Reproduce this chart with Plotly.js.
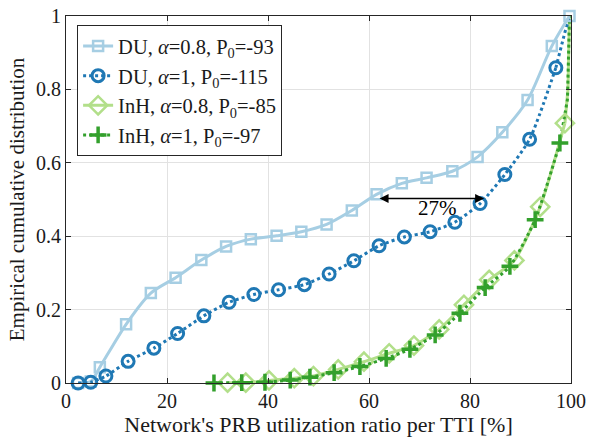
<!DOCTYPE html>
<html>
<head>
<meta charset="utf-8">
<script src="https://cdn.plot.ly/plotly-3.0.1.min.js"></script>
<style>
  html, body { margin: 0; padding: 0; background: #ffffff; }
  #chart { width: 589px; height: 438px; }
</style>
</head>
<body>
<div id="chart"></div>
<script>
// PRB utilization ratio (%) and empirical CDF at each marker position
const duA08X = [2.4, 4.9, 6.7, 11.9, 16.8, 21.7, 26.8, 31.7, 36.6, 41.7, 46.6, 51.6, 56.6, 61.5, 66.5, 71.4, 76.5, 81.5, 86.4, 91.4, 96.2, 99.7];
const duA08Y = [0.0, 0.004, 0.043, 0.160, 0.245, 0.287, 0.335, 0.372, 0.392, 0.401, 0.412, 0.432, 0.470, 0.514, 0.544, 0.559, 0.577, 0.616, 0.683, 0.771, 0.918, 1.0];

const duA1X = [2.4, 4.9, 7.9, 12.3, 17.4, 22.1, 27.3, 32.3, 37.2, 42.1, 47.2, 52.1, 57.0, 62.0, 67.0, 72.1, 77.0, 82.0, 86.9, 91.8, 97.0];
const duA1Y = [0.0, 0.002, 0.019, 0.059, 0.095, 0.135, 0.183, 0.220, 0.241, 0.254, 0.268, 0.297, 0.333, 0.374, 0.398, 0.412, 0.438, 0.489, 0.568, 0.664, 0.859];
const duA1TailX = [97.0, 98.8, 99.8];
const duA1TailY = [0.859, 0.956, 1.0];

const inhA08X = [32.0, 35.6, 40.2, 45.2, 49.0, 53.9, 59.0, 64.0, 68.9, 73.9, 78.8, 83.8, 88.8, 93.9, 98.8];
const inhA08Y = [0.001, 0.001, 0.007, 0.013, 0.019, 0.037, 0.058, 0.081, 0.102, 0.146, 0.213, 0.281, 0.334, 0.480, 0.708];
const inhA08TailX = [98.8, 99.4, 99.7];
const inhA08TailY = [0.708, 0.80, 1.0];

const inhA1X = [29.3, 34.8, 39.4, 44.4, 48.3, 53.1, 58.2, 63.4, 68.1, 73.1, 78.0, 83.0, 87.9, 92.9, 97.8];
const inhA1Y = [0.0, 0.001, 0.002, 0.008, 0.016, 0.028, 0.045, 0.067, 0.092, 0.131, 0.190, 0.260, 0.318, 0.445, 0.654];
const inhA1TailX = [97.8, 99.3, 99.7];
const inhA1TailY = [0.654, 0.773, 1.0];

const seriesNames = [
  'DU, <i>α</i>=0.8, P<sub>0</sub>=-93',
  'DU, <i>α</i>=1, P<sub>0</sub>=-115',
  'InH, <i>α</i>=0.8, P<sub>0</sub>=-85',
  'InH, <i>α</i>=1, P<sub>0</sub>=-97'
];

// Gap between the two DU curves at the median
const gapFrom = 61.8, gapTo = 82.8, gapLevel = 0.503;
const gapText = '27%';

const xTicks = [0, 20, 40, 60, 80, 100];
const yTicks = [0, 0.2, 0.4, 0.6, 0.8, 1];

const cLightBlue = '#a6cee3', cBlue = '#1f78b4', cLightGreen = '#b2df8a', cGreen = '#33a02c';
const serif = 'Liberation Serif, Times New Roman, serif';
const ink = '#1a1a1a';

const tail = (x, y, color, dash) => ({
  x, y, mode: 'lines', showlegend: false, hoverinfo: 'skip',
  line: {color, width: 3, dash}
});

const traces = [
  tail(inhA08TailX, inhA08TailY, cLightGreen, 'solid'),
  tail(inhA1TailX, inhA1TailY, cGreen, 'dot'),
  tail(duA1TailX, duA1TailY, cBlue, 'dot'),
  {
    x: duA08X, y: duA08Y, name: seriesNames[0], mode: 'lines+markers', cliponaxis: false,
    line: {color: cLightBlue, width: 3, shape: 'spline', smoothing: 0.8},
    marker: {symbol: 'square-open', size: 10, color: cLightBlue, line: {color: cLightBlue, width: 2.5}}
  },
  {
    x: duA1X, y: duA1Y, name: seriesNames[1], mode: 'lines+markers', cliponaxis: false,
    line: {color: cBlue, width: 3, dash: 'dot', shape: 'spline', smoothing: 0.6},
    marker: {symbol: 'circle-open', size: 12, color: cBlue, line: {color: cBlue, width: 3}}
  },
  {
    x: inhA08X, y: inhA08Y, name: seriesNames[2], mode: 'lines+markers', cliponaxis: false,
    line: {color: cLightGreen, width: 3, shape: 'spline', smoothing: 0.6},
    marker: {symbol: 'diamond-open', size: 14, color: cLightGreen, line: {color: cLightGreen, width: 2.5}}
  },
  {
    x: inhA1X, y: inhA1Y, name: seriesNames[3], mode: 'lines+markers', cliponaxis: false,
    line: {color: cGreen, width: 3, dash: 'dot', shape: 'spline', smoothing: 0.6},
    marker: {symbol: 'cross-thin-open', size: 12, color: cGreen, line: {color: cGreen, width: 3.5}}
  }
];

const axisBase = {
  showline: true, linecolor: '#262626', linewidth: 1, mirror: 'ticks',
  ticks: 'inside', ticklen: 5, tickwidth: 1, tickcolor: '#262626',
  showgrid: true, gridcolor: '#e2e2e2', gridwidth: 1, zeroline: false,
  tickfont: {family: serif, size: 20, color: ink}
};

const layout = {
  width: 589, height: 438,
  margin: {l: 66, r: 18, t: 16, b: 55},
  paper_bgcolor: '#ffffff', plot_bgcolor: '#ffffff',
  font: {family: serif, color: ink},
  xaxis: Object.assign({}, axisBase, {
    range: [0, 100], tickvals: xTicks, ticktext: xTicks.map(String),
    ticklabelstandoff: 0,
    title: {text: "Network's PRB utilization ratio per TTI [%]", font: {family: serif, size: 22, color: ink}, standoff: 4}
  }),
  yaxis: Object.assign({}, axisBase, {
    range: [0, 1], tickvals: yTicks, ticktext: yTicks.map(String),
    ticklabelstandoff: 0,
    title: {text: 'Empirical cumulative distribution', font: {family: serif, size: 21, color: ink}, standoff: 5}
  }),
  legend: {
    x: 0.022, y: 0.975, xanchor: 'left', yanchor: 'top',
    bgcolor: '#ffffff', bordercolor: '#262626', borderwidth: 1,
    font: {family: serif, size: 20.5, color: ink},
    traceorder: 'normal'
  },
  annotations: [
    {
      x: gapTo, y: gapLevel, ax: gapFrom, ay: gapLevel, xref: 'x', yref: 'y', axref: 'x', ayref: 'y',
      showarrow: true, arrowhead: 2, startarrowhead: 2, arrowside: 'end+start',
      arrowsize: 1.2, arrowwidth: 1.5, arrowcolor: '#000000', text: ''
    },
    {
      x: (gapFrom + gapTo) / 2 + 1.3, y: gapLevel - 0.026, xref: 'x', yref: 'y',
      showarrow: false, text: gapText, yanchor: 'middle',
      font: {family: serif, size: 21, color: '#000000'}
    }
  ],
  showlegend: true
};

Plotly.newPlot('chart', traces, layout, {displayModeBar: false, staticPlot: true});
</script>
</body>
</html>
